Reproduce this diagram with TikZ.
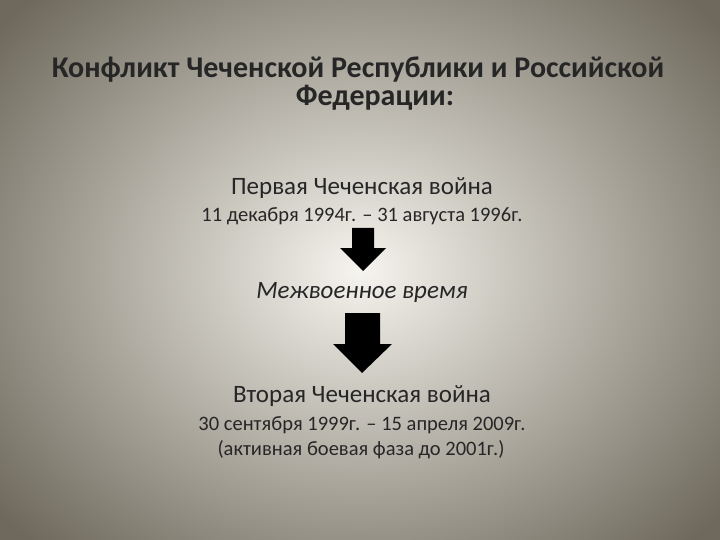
\documentclass[tikz,border=0pt]{standalone}
\usepackage{fontspec}
\setmainfont{Carlito}
\begin{document}
\begin{tikzpicture}[x=1pt,y=-1pt,
  txt/.style={anchor=center,inner sep=0pt,text=black!85},
  blk/.style={fill=black}]
\useasboundingbox (0,0) rectangle (720,540);
\shade[inner color={rgb,255:red,246;green,244;blue,238},outer color={rgb,255:red,110;green,105;blue,92}] (-110,-110) rectangle (830,650);
\clip (0,0) rectangle (720,540);
\node[txt,font=\bfseries\fontsize{30}{36}\selectfont] (t1) at (358,70) {Конфликт Чеченской Республики и Российской};
\node[txt,font=\bfseries\fontsize{30}{36}\selectfont] (t2) at (375,98) {Федерации:};
\node[txt,font=\fontsize{25}{30}\selectfont] (w1) at (362,188) {Первая Чеченская война};
\node[txt,font=\fontsize{20.5}{25}\selectfont] (d1) at (362,216) {11 декабря 1994г. – 31 августа 1996г.};
\node[txt,font=\itshape\fontsize{25}{30}\selectfont] (m) at (362,292) {Межвоенное время};
\node[txt,font=\fontsize{25}{30}\selectfont] (w2) at (362,396) {Вторая Чеченская война};
\node[txt,font=\fontsize{20.5}{25}\selectfont] (d2) at (362,425) {30 сентября 1999г. – 15 апреля 2009г.};
\node[txt,font=\fontsize{20.5}{25}\selectfont] (d3) at (361,450) {(активная боевая фаза до 2001г.)};
\fill[blk] (352,228) -- (374,228) -- (374,248) -- (386,248) -- (363,271) -- (340,248) -- (352,248) -- cycle;
\fill[blk] (345,313) -- (380,313) -- (380,344) -- (392,344) -- (362,373) -- (333,344) -- (345,344) -- cycle;
\end{tikzpicture}
\end{document}
